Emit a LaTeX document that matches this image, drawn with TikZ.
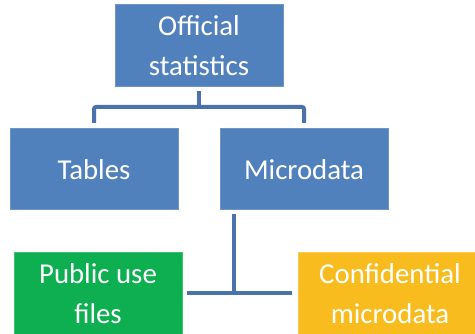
\documentclass[tikz,border=0pt]{standalone}
\usepackage{fontspec}
\setmainfont{Carlito}
\definecolor{boxblue}{HTML}{5181BD}
\definecolor{boxedge}{HTML}{6F95C8}
\definecolor{linkblue}{HTML}{4A72AC}
\definecolor{boxgreen}{HTML}{0DAF50}
\definecolor{greenedge}{HTML}{3CC070}
\definecolor{boxorange}{HTML}{F8BC1E}
\definecolor{orangeedge}{HTML}{FACB52}
\begin{document}
\begin{tikzpicture}[x=1pt,y=-1pt,
  orgbox/.style={text=white,font=\fontsize{28.8}{40}\selectfont,align=center,inner sep=0pt},
  link/.style={draw=linkblue,line width=4pt,rounded corners=2pt}]
\useasboundingbox (0,0) rectangle (475,334);
\path[fill=boxblue,draw=boxedge,line width=0.8pt] (115,4) rectangle (283,86);
\node[orgbox] (off) at (199,46) {Official\\statistics};
\path[fill=boxblue,draw=boxedge,line width=0.8pt] (10,128) rectangle (178,209);
\node[orgbox] (tab) at (94,169.5) {Tables};
\path[fill=boxblue,draw=boxedge,line width=0.8pt] (220,128) rectangle (388,209);
\node[orgbox] (mic) at (304,169.5) {Microdata};
\path[fill=boxgreen,draw=greenedge,line width=0.8pt] (14,252) rectangle (182,340);
\node[orgbox] (pub) at (98,294) {Public use\\files};
\path[fill=boxorange,draw=orangeedge,line width=0.8pt] (298,252) rectangle (480,340);
\node[orgbox] (con) at (390,294) {Confidential\\microdata};
\coordinate (t0) at (199,91);
\coordinate (t1) at (199,107);
\coordinate (tl) at (94,123);
\coordinate (tr) at (304,123);
\draw[link] (t0) -- (t1);
\draw[link] (tl) |- (t1) -| (tr);
\coordinate (b0) at (234,214);
\coordinate (bj) at (234,293);
\coordinate (bl) at (187,293);
\coordinate (br) at (292,293);
\draw[link] (b0) -- (bj);
\draw[link] (bl) -- (br);
\end{tikzpicture}
\end{document}
